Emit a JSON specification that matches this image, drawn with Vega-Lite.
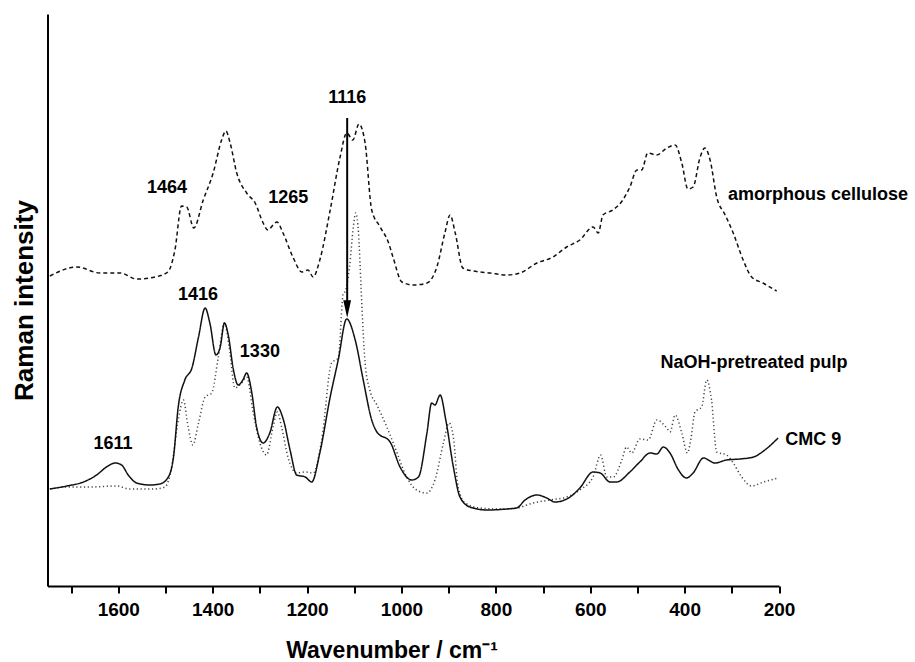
{
  "$schema": "https://vega.github.io/schema/vega-lite/v6.json",
  "width": 731.5,
  "height": 572,
  "autosize": {"type": "none"},
  "padding": {"left": 47.5, "top": 14, "right": 136, "bottom": 76},
  "background": "white",
  "config": {"view": {"stroke": null}, "font": "Liberation Sans"},
  "datasets": {
    "spectra": [
      {"series":"amorphous cellulose","wavenumber":1745,"intensity":310},
      {"series":"amorphous cellulose","wavenumber":1688,"intensity":319},
      {"series":"amorphous cellulose","wavenumber":1639,"intensity":313},
      {"series":"amorphous cellulose","wavenumber":1596,"intensity":313},
      {"series":"amorphous cellulose","wavenumber":1561,"intensity":307},
      {"series":"amorphous cellulose","wavenumber":1522,"intensity":309},
      {"series":"amorphous cellulose","wavenumber":1495,"intensity":314},
      {"series":"amorphous cellulose","wavenumber":1480,"intensity":336},
      {"series":"amorphous cellulose","wavenumber":1466,"intensity":380},
      {"series":"amorphous cellulose","wavenumber":1455,"intensity":379},
      {"series":"amorphous cellulose","wavenumber":1440,"intensity":358},
      {"series":"amorphous cellulose","wavenumber":1420,"intensity":386},
      {"series":"amorphous cellulose","wavenumber":1399,"intensity":413},
      {"series":"amorphous cellulose","wavenumber":1381,"intensity":446},
      {"series":"amorphous cellulose","wavenumber":1372,"intensity":455},
      {"series":"amorphous cellulose","wavenumber":1363,"intensity":443},
      {"series":"amorphous cellulose","wavenumber":1349,"intensity":413},
      {"series":"amorphous cellulose","wavenumber":1328,"intensity":393},
      {"series":"amorphous cellulose","wavenumber":1310,"intensity":383},
      {"series":"amorphous cellulose","wavenumber":1293,"intensity":363},
      {"series":"amorphous cellulose","wavenumber":1283,"intensity":356},
      {"series":"amorphous cellulose","wavenumber":1272,"intensity":361},
      {"series":"amorphous cellulose","wavenumber":1264,"intensity":364},
      {"series":"amorphous cellulose","wavenumber":1251,"intensity":353},
      {"series":"amorphous cellulose","wavenumber":1230,"intensity":329},
      {"series":"amorphous cellulose","wavenumber":1211,"intensity":314},
      {"series":"amorphous cellulose","wavenumber":1198,"intensity":316},
      {"series":"amorphous cellulose","wavenumber":1187,"intensity":309},
      {"series":"amorphous cellulose","wavenumber":1173,"intensity":326},
      {"series":"amorphous cellulose","wavenumber":1151,"intensity":376},
      {"series":"amorphous cellulose","wavenumber":1130,"intensity":429},
      {"series":"amorphous cellulose","wavenumber":1116,"intensity":453},
      {"series":"amorphous cellulose","wavenumber":1103,"intensity":446},
      {"series":"amorphous cellulose","wavenumber":1090,"intensity":462},
      {"series":"amorphous cellulose","wavenumber":1077,"intensity":443},
      {"series":"amorphous cellulose","wavenumber":1063,"intensity":376},
      {"series":"amorphous cellulose","wavenumber":1045,"intensity":359},
      {"series":"amorphous cellulose","wavenumber":1028,"intensity":344},
      {"series":"amorphous cellulose","wavenumber":1018,"intensity":329},
      {"series":"amorphous cellulose","wavenumber":999,"intensity":304},
      {"series":"amorphous cellulose","wavenumber":975,"intensity":301},
      {"series":"amorphous cellulose","wavenumber":946,"intensity":303},
      {"series":"amorphous cellulose","wavenumber":925,"intensity":319},
      {"series":"amorphous cellulose","wavenumber":908,"intensity":353},
      {"series":"amorphous cellulose","wavenumber":897,"intensity":371},
      {"series":"amorphous cellulose","wavenumber":886,"intensity":353},
      {"series":"amorphous cellulose","wavenumber":870,"intensity":318},
      {"series":"amorphous cellulose","wavenumber":848,"intensity":315},
      {"series":"amorphous cellulose","wavenumber":812,"intensity":313},
      {"series":"amorphous cellulose","wavenumber":777,"intensity":311},
      {"series":"amorphous cellulose","wavenumber":749,"intensity":313},
      {"series":"amorphous cellulose","wavenumber":713,"intensity":323},
      {"series":"amorphous cellulose","wavenumber":679,"intensity":329},
      {"series":"amorphous cellulose","wavenumber":650,"intensity":339},
      {"series":"amorphous cellulose","wavenumber":622,"intensity":346},
      {"series":"amorphous cellulose","wavenumber":594,"intensity":359},
      {"series":"amorphous cellulose","wavenumber":583,"intensity":353},
      {"series":"amorphous cellulose","wavenumber":573,"intensity":371},
      {"series":"amorphous cellulose","wavenumber":552,"intensity":376},
      {"series":"amorphous cellulose","wavenumber":531,"intensity":386},
      {"series":"amorphous cellulose","wavenumber":516,"intensity":399},
      {"series":"amorphous cellulose","wavenumber":501,"intensity":416},
      {"series":"amorphous cellulose","wavenumber":491,"intensity":416},
      {"series":"amorphous cellulose","wavenumber":478,"intensity":433},
      {"series":"amorphous cellulose","wavenumber":459,"intensity":431},
      {"series":"amorphous cellulose","wavenumber":438,"intensity":438},
      {"series":"amorphous cellulose","wavenumber":420,"intensity":441},
      {"series":"amorphous cellulose","wavenumber":406,"intensity":423},
      {"series":"amorphous cellulose","wavenumber":393,"intensity":397},
      {"series":"amorphous cellulose","wavenumber":382,"intensity":399},
      {"series":"amorphous cellulose","wavenumber":367,"intensity":429},
      {"series":"amorphous cellulose","wavenumber":357,"intensity":438},
      {"series":"amorphous cellulose","wavenumber":346,"intensity":426},
      {"series":"amorphous cellulose","wavenumber":332,"intensity":389},
      {"series":"amorphous cellulose","wavenumber":314,"intensity":371},
      {"series":"amorphous cellulose","wavenumber":297,"intensity":353},
      {"series":"amorphous cellulose","wavenumber":276,"intensity":326},
      {"series":"amorphous cellulose","wavenumber":258,"intensity":309},
      {"series":"amorphous cellulose","wavenumber":234,"intensity":303},
      {"series":"amorphous cellulose","wavenumber":205,"intensity":295},

      {"series":"NaOH-pretreated pulp","wavenumber":1745,"intensity":97},
      {"series":"NaOH-pretreated pulp","wavenumber":1709,"intensity":99},
      {"series":"NaOH-pretreated pulp","wavenumber":1660,"intensity":99},
      {"series":"NaOH-pretreated pulp","wavenumber":1603,"intensity":100},
      {"series":"NaOH-pretreated pulp","wavenumber":1575,"intensity":97},
      {"series":"NaOH-pretreated pulp","wavenumber":1526,"intensity":97},
      {"series":"NaOH-pretreated pulp","wavenumber":1501,"intensity":99},
      {"series":"NaOH-pretreated pulp","wavenumber":1487,"intensity":119},
      {"series":"NaOH-pretreated pulp","wavenumber":1473,"intensity":166},
      {"series":"NaOH-pretreated pulp","wavenumber":1462,"intensity":186},
      {"series":"NaOH-pretreated pulp","wavenumber":1452,"intensity":159},
      {"series":"NaOH-pretreated pulp","wavenumber":1442,"intensity":141},
      {"series":"NaOH-pretreated pulp","wavenumber":1430,"intensity":163},
      {"series":"NaOH-pretreated pulp","wavenumber":1416,"intensity":189},
      {"series":"NaOH-pretreated pulp","wavenumber":1402,"intensity":193},
      {"series":"NaOH-pretreated pulp","wavenumber":1388,"intensity":229},
      {"series":"NaOH-pretreated pulp","wavenumber":1375,"intensity":263},
      {"series":"NaOH-pretreated pulp","wavenumber":1365,"intensity":239},
      {"series":"NaOH-pretreated pulp","wavenumber":1353,"intensity":198},
      {"series":"NaOH-pretreated pulp","wavenumber":1339,"intensity":203},
      {"series":"NaOH-pretreated pulp","wavenumber":1328,"intensity":209},
      {"series":"NaOH-pretreated pulp","wavenumber":1314,"intensity":173},
      {"series":"NaOH-pretreated pulp","wavenumber":1300,"intensity":143},
      {"series":"NaOH-pretreated pulp","wavenumber":1286,"intensity":131},
      {"series":"NaOH-pretreated pulp","wavenumber":1272,"intensity":159},
      {"series":"NaOH-pretreated pulp","wavenumber":1263,"intensity":174},
      {"series":"NaOH-pretreated pulp","wavenumber":1254,"intensity":159},
      {"series":"NaOH-pretreated pulp","wavenumber":1240,"intensity":128},
      {"series":"NaOH-pretreated pulp","wavenumber":1222,"intensity":113},
      {"series":"NaOH-pretreated pulp","wavenumber":1204,"intensity":114},
      {"series":"NaOH-pretreated pulp","wavenumber":1187,"intensity":113},
      {"series":"NaOH-pretreated pulp","wavenumber":1169,"intensity":146},
      {"series":"NaOH-pretreated pulp","wavenumber":1148,"intensity":223},
      {"series":"NaOH-pretreated pulp","wavenumber":1134,"intensity":228},
      {"series":"NaOH-pretreated pulp","wavenumber":1123,"intensity":293},
      {"series":"NaOH-pretreated pulp","wavenumber":1120,"intensity":294},
      {"series":"NaOH-pretreated pulp","wavenumber":1110,"intensity":319},
      {"series":"NaOH-pretreated pulp","wavenumber":1102,"intensity":359},
      {"series":"NaOH-pretreated pulp","wavenumber":1097,"intensity":373},
      {"series":"NaOH-pretreated pulp","wavenumber":1091,"intensity":353},
      {"series":"NaOH-pretreated pulp","wavenumber":1086,"intensity":303},
      {"series":"NaOH-pretreated pulp","wavenumber":1081,"intensity":253},
      {"series":"NaOH-pretreated pulp","wavenumber":1077,"intensity":223},
      {"series":"NaOH-pretreated pulp","wavenumber":1067,"intensity":196},
      {"series":"NaOH-pretreated pulp","wavenumber":1052,"intensity":181},
      {"series":"NaOH-pretreated pulp","wavenumber":1031,"intensity":159},
      {"series":"NaOH-pretreated pulp","wavenumber":1014,"intensity":139},
      {"series":"NaOH-pretreated pulp","wavenumber":989,"intensity":109},
      {"series":"NaOH-pretreated pulp","wavenumber":968,"intensity":96},
      {"series":"NaOH-pretreated pulp","wavenumber":946,"intensity":93},
      {"series":"NaOH-pretreated pulp","wavenumber":929,"intensity":106},
      {"series":"NaOH-pretreated pulp","wavenumber":911,"intensity":143},
      {"series":"NaOH-pretreated pulp","wavenumber":899,"intensity":163},
      {"series":"NaOH-pretreated pulp","wavenumber":890,"intensity":149},
      {"series":"NaOH-pretreated pulp","wavenumber":880,"intensity":99},
      {"series":"NaOH-pretreated pulp","wavenumber":865,"intensity":83},
      {"series":"NaOH-pretreated pulp","wavenumber":834,"intensity":78},
      {"series":"NaOH-pretreated pulp","wavenumber":791,"intensity":77},
      {"series":"NaOH-pretreated pulp","wavenumber":756,"intensity":78},
      {"series":"NaOH-pretreated pulp","wavenumber":721,"intensity":83},
      {"series":"NaOH-pretreated pulp","wavenumber":685,"intensity":86},
      {"series":"NaOH-pretreated pulp","wavenumber":650,"intensity":89},
      {"series":"NaOH-pretreated pulp","wavenumber":622,"intensity":96},
      {"series":"NaOH-pretreated pulp","wavenumber":594,"intensity":109},
      {"series":"NaOH-pretreated pulp","wavenumber":578,"intensity":131},
      {"series":"NaOH-pretreated pulp","wavenumber":565,"intensity":109},
      {"series":"NaOH-pretreated pulp","wavenumber":551,"intensity":109},
      {"series":"NaOH-pretreated pulp","wavenumber":533,"intensity":126},
      {"series":"NaOH-pretreated pulp","wavenumber":523,"intensity":139},
      {"series":"NaOH-pretreated pulp","wavenumber":512,"intensity":133},
      {"series":"NaOH-pretreated pulp","wavenumber":495,"intensity":147},
      {"series":"NaOH-pretreated pulp","wavenumber":477,"intensity":146},
      {"series":"NaOH-pretreated pulp","wavenumber":459,"intensity":166},
      {"series":"NaOH-pretreated pulp","wavenumber":438,"intensity":158},
      {"series":"NaOH-pretreated pulp","wavenumber":431,"intensity":154},
      {"series":"NaOH-pretreated pulp","wavenumber":420,"intensity":171},
      {"series":"NaOH-pretreated pulp","wavenumber":406,"intensity":153},
      {"series":"NaOH-pretreated pulp","wavenumber":394,"intensity":133},
      {"series":"NaOH-pretreated pulp","wavenumber":387,"intensity":146},
      {"series":"NaOH-pretreated pulp","wavenumber":378,"intensity":174},
      {"series":"NaOH-pretreated pulp","wavenumber":364,"intensity":179},
      {"series":"NaOH-pretreated pulp","wavenumber":353,"intensity":206},
      {"series":"NaOH-pretreated pulp","wavenumber":343,"intensity":186},
      {"series":"NaOH-pretreated pulp","wavenumber":332,"intensity":134},
      {"series":"NaOH-pretreated pulp","wavenumber":311,"intensity":131},
      {"series":"NaOH-pretreated pulp","wavenumber":297,"intensity":123},
      {"series":"NaOH-pretreated pulp","wavenumber":279,"intensity":109},
      {"series":"NaOH-pretreated pulp","wavenumber":258,"intensity":100},
      {"series":"NaOH-pretreated pulp","wavenumber":233,"intensity":104},
      {"series":"NaOH-pretreated pulp","wavenumber":201,"intensity":108},

      {"series":"CMC 9","wavenumber":1745,"intensity":97},
      {"series":"CMC 9","wavenumber":1709,"intensity":100},
      {"series":"CMC 9","wavenumber":1674,"intensity":104},
      {"series":"CMC 9","wavenumber":1646,"intensity":111},
      {"series":"CMC 9","wavenumber":1625,"intensity":119},
      {"series":"CMC 9","wavenumber":1607,"intensity":123},
      {"series":"CMC 9","wavenumber":1593,"intensity":121},
      {"series":"CMC 9","wavenumber":1579,"intensity":111},
      {"series":"CMC 9","wavenumber":1561,"intensity":103},
      {"series":"CMC 9","wavenumber":1533,"intensity":101},
      {"series":"CMC 9","wavenumber":1512,"intensity":102},
      {"series":"CMC 9","wavenumber":1494,"intensity":109},
      {"series":"CMC 9","wavenumber":1483,"intensity":129},
      {"series":"CMC 9","wavenumber":1473,"intensity":179},
      {"series":"CMC 9","wavenumber":1459,"intensity":206},
      {"series":"CMC 9","wavenumber":1444,"intensity":218},
      {"series":"CMC 9","wavenumber":1430,"intensity":249},
      {"series":"CMC 9","wavenumber":1416,"intensity":278},
      {"series":"CMC 9","wavenumber":1406,"intensity":263},
      {"series":"CMC 9","wavenumber":1393,"intensity":231},
      {"series":"CMC 9","wavenumber":1384,"intensity":239},
      {"series":"CMC 9","wavenumber":1375,"intensity":263},
      {"series":"CMC 9","wavenumber":1367,"intensity":251},
      {"series":"CMC 9","wavenumber":1356,"intensity":216},
      {"series":"CMC 9","wavenumber":1346,"intensity":201},
      {"series":"CMC 9","wavenumber":1336,"intensity":206},
      {"series":"CMC 9","wavenumber":1328,"intensity":213},
      {"series":"CMC 9","wavenumber":1317,"intensity":193},
      {"series":"CMC 9","wavenumber":1307,"intensity":159},
      {"series":"CMC 9","wavenumber":1293,"intensity":143},
      {"series":"CMC 9","wavenumber":1279,"intensity":153},
      {"series":"CMC 9","wavenumber":1263,"intensity":179},
      {"series":"CMC 9","wavenumber":1250,"intensity":166},
      {"series":"CMC 9","wavenumber":1236,"intensity":136},
      {"series":"CMC 9","wavenumber":1222,"intensity":111},
      {"series":"CMC 9","wavenumber":1204,"intensity":109},
      {"series":"CMC 9","wavenumber":1190,"intensity":104},
      {"series":"CMC 9","wavenumber":1173,"intensity":133},
      {"series":"CMC 9","wavenumber":1151,"intensity":189},
      {"series":"CMC 9","wavenumber":1134,"intensity":226},
      {"series":"CMC 9","wavenumber":1116,"intensity":267},
      {"series":"CMC 9","wavenumber":1098,"intensity":246},
      {"series":"CMC 9","wavenumber":1081,"intensity":206},
      {"series":"CMC 9","wavenumber":1063,"intensity":166},
      {"series":"CMC 9","wavenumber":1052,"intensity":154},
      {"series":"CMC 9","wavenumber":1024,"intensity":144},
      {"series":"CMC 9","wavenumber":1003,"intensity":119},
      {"series":"CMC 9","wavenumber":978,"intensity":106},
      {"series":"CMC 9","wavenumber":964,"intensity":109},
      {"series":"CMC 9","wavenumber":946,"intensity":153},
      {"series":"CMC 9","wavenumber":936,"intensity":183},
      {"series":"CMC 9","wavenumber":929,"intensity":181},
      {"series":"CMC 9","wavenumber":918,"intensity":191},
      {"series":"CMC 9","wavenumber":906,"intensity":166},
      {"series":"CMC 9","wavenumber":890,"intensity":119},
      {"series":"CMC 9","wavenumber":876,"intensity":89},
      {"series":"CMC 9","wavenumber":855,"intensity":79},
      {"series":"CMC 9","wavenumber":819,"intensity":76},
      {"series":"CMC 9","wavenumber":777,"intensity":77},
      {"series":"CMC 9","wavenumber":756,"intensity":78},
      {"series":"CMC 9","wavenumber":738,"intensity":86},
      {"series":"CMC 9","wavenumber":713,"intensity":91},
      {"series":"CMC 9","wavenumber":692,"intensity":88},
      {"series":"CMC 9","wavenumber":675,"intensity":84},
      {"series":"CMC 9","wavenumber":646,"intensity":88},
      {"series":"CMC 9","wavenumber":622,"intensity":98},
      {"series":"CMC 9","wavenumber":594,"intensity":114},
      {"series":"CMC 9","wavenumber":579,"intensity":113},
      {"series":"CMC 9","wavenumber":558,"intensity":104},
      {"series":"CMC 9","wavenumber":544,"intensity":104},
      {"series":"CMC 9","wavenumber":516,"intensity":114},
      {"series":"CMC 9","wavenumber":495,"intensity":124},
      {"series":"CMC 9","wavenumber":473,"intensity":133},
      {"series":"CMC 9","wavenumber":459,"intensity":132},
      {"series":"CMC 9","wavenumber":445,"intensity":139},
      {"series":"CMC 9","wavenumber":431,"intensity":133},
      {"series":"CMC 9","wavenumber":413,"intensity":116},
      {"series":"CMC 9","wavenumber":396,"intensity":108},
      {"series":"CMC 9","wavenumber":382,"intensity":113},
      {"series":"CMC 9","wavenumber":360,"intensity":128},
      {"series":"CMC 9","wavenumber":336,"intensity":123},
      {"series":"CMC 9","wavenumber":311,"intensity":126},
      {"series":"CMC 9","wavenumber":283,"intensity":127},
      {"series":"CMC 9","wavenumber":254,"intensity":129},
      {"series":"CMC 9","wavenumber":230,"intensity":136},
      {"series":"CMC 9","wavenumber":202,"intensity":148}
    ],
    "peakLabels": [
      {"text":"1464","wavenumber":1497,"intensity":398},
      {"text":"1265","wavenumber":1240,"intensity":388},
      {"text":"1116","wavenumber":1115,"intensity":488},
      {"text":"1416","wavenumber":1431,"intensity":291},
      {"text":"1330","wavenumber":1300,"intensity":234},
      {"text":"1611","wavenumber":1611,"intensity":142},
      {"text":"NaOH-pretreated pulp","wavenumber":253,"intensity":223}
    ],
    "seriesLabels": [
      {"text":"amorphous cellulose","wavenumber":308,"intensity":391},
      {"text":"CMC 9","wavenumber":187,"intensity":146}
    ],
    "arrow": [
      {"wavenumber":1115,"top":468,"bottom":284,"tip":277}
    ]
  },
  "layer": [
    {
      "data": {"name": "spectra"},
      "mark": {"type": "line", "interpolate": "monotone", "strokeWidth": 1.5},
      "encoding": {
        "x": {
          "field": "wavenumber", "type": "quantitative",
          "scale": {"domain": [200, 1750], "reverse": true, "nice": false, "zero": false},
          "axis": {
            "title": "Wavenumber / cm⁻¹",
            "values": [1700,1600,1500,1400,1300,1200,1100,1000,900,800,700,600,500,400,300,200],
            "labelExpr": "datum.value % 200 == 0 ? datum.label : ''",
            "format": "d",
            "grid": false,
            "domainColor": "black", "domainWidth": 2,
            "tickColor": "black", "tickWidth": 2, "tickSize": 7,
            "labelFont": "Liberation Sans", "labelFontSize": 19, "labelFontWeight": "bold", "labelColor": "black",
            "labelPadding": 7, "labelFlush": false,
            "titleFont": "Liberation Sans", "titleFontSize": 23, "titleFontWeight": "bold", "titleColor": "black",
            "titlePadding": 20, "titleX": 344
          }
        },
        "y": {
          "field": "intensity", "type": "quantitative",
          "scale": {"domain": [0, 572], "nice": false, "zero": false},
          "axis": {
            "title": "Raman intensity",
            "ticks": false, "labels": false, "grid": false,
            "domainColor": "black", "domainWidth": 2,
            "titleFont": "Liberation Sans", "titleFontSize": 26, "titleFontWeight": "bold", "titleColor": "black",
            "titlePadding": 10
          }
        },
        "detail": {"field": "series"},
        "color": {
          "field": "series", "type": "nominal",
          "scale": {"domain": ["amorphous cellulose", "NaOH-pretreated pulp", "CMC 9"], "range": ["#111111", "#444444", "#111111"]},
          "legend": null
        },
        "strokeDash": {
          "field": "series", "type": "nominal",
          "scale": {"domain": ["amorphous cellulose", "NaOH-pretreated pulp", "CMC 9"], "range": [[4, 3], [1.2, 2.6], [1, 0]]},
          "legend": null
        }
      }
    },
    {
      "data": {"name": "peakLabels"},
      "mark": {"type": "text", "font": "Liberation Sans", "fontSize": 18, "fontWeight": "bold", "color": "black", "align": "center", "baseline": "middle"},
      "encoding": {
        "x": {"field": "wavenumber", "type": "quantitative"},
        "y": {"field": "intensity", "type": "quantitative"},
        "text": {"field": "text"}
      }
    },
    {
      "data": {"name": "seriesLabels"},
      "mark": {"type": "text", "font": "Liberation Sans", "fontSize": 18, "fontWeight": "bold", "color": "black", "align": "left", "baseline": "middle"},
      "encoding": {
        "x": {"field": "wavenumber", "type": "quantitative"},
        "y": {"field": "intensity", "type": "quantitative"},
        "text": {"field": "text"}
      }
    },
    {
      "data": {"name": "arrow"},
      "mark": {"type": "rule", "color": "black", "strokeWidth": 2},
      "encoding": {
        "x": {"field": "wavenumber", "type": "quantitative"},
        "y": {"field": "top", "type": "quantitative"},
        "y2": {"field": "bottom"}
      }
    },
    {
      "data": {"name": "arrow"},
      "mark": {"type": "point", "shape": "M -0.45 -1 L 0.45 -1 L 0 1 Z", "filled": true, "color": "black", "opacity": 1, "size": 300},
      "encoding": {
        "x": {"field": "wavenumber", "type": "quantitative"},
        "y": {"field": "tip", "type": "quantitative"}
      }
    }
  ]
}
